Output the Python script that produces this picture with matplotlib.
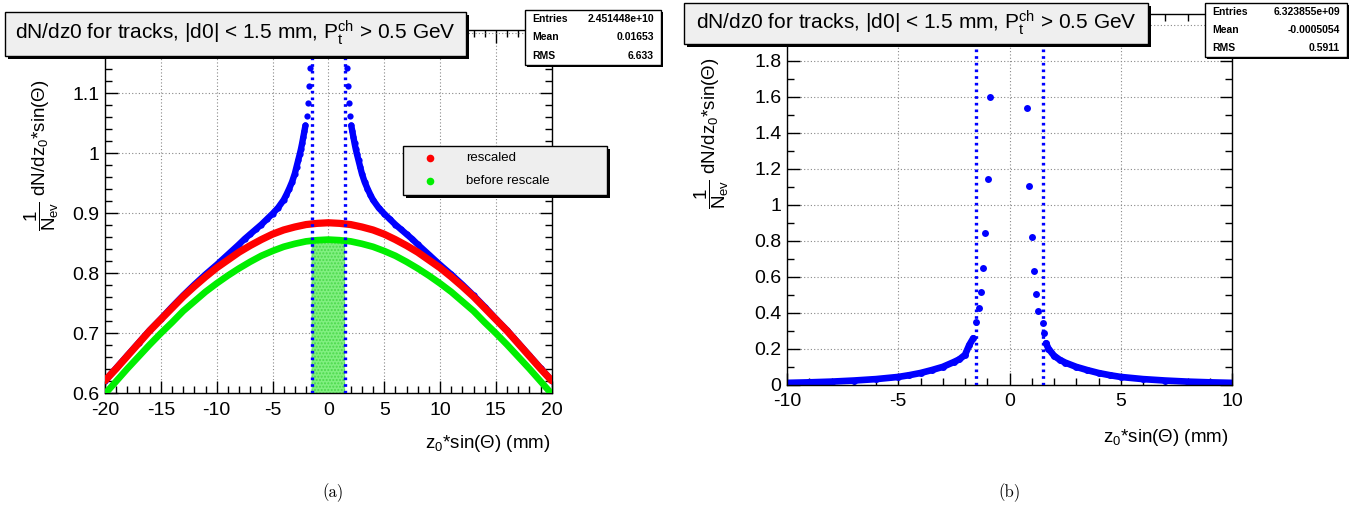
import numpy as np
import matplotlib
matplotlib.use("Agg")
import matplotlib.pyplot as plt
from matplotlib.patches import Rectangle
from matplotlib.lines import Line2D
from matplotlib.ticker import MultipleLocator, FuncFormatter

plt.rcParams['font.family'] = ['Liberation Sans', 'DejaVu Sans']
plt.rcParams['mathtext.fontset'] = 'custom'
plt.rcParams['mathtext.rm'] = 'Liberation Sans'
plt.rcParams['mathtext.it'] = 'Liberation Sans'
plt.rcParams['mathtext.bf'] = 'Liberation Sans:bold'
plt.rcParams['axes.unicode_minus'] = False

# ---------------- data: panel (a), |z0 sin(theta)| up to 20 mm ----------------
z_a = [-20, -19, -18, -17, -16, -15, -14, -13, -12, -11, -10, -9, -8, -7, -6, -5,
       -4, -3, -2, -1, 0, 1, 2, 3, 4, 5, 6, 7, 8, 9, 10, 11, 12, 13, 14, 15, 16,
       17, 18, 19, 20]
rescaled = [0.621, 0.641, 0.662, 0.683, 0.704, 0.723, 0.742, 0.761, 0.778, 0.794,
            0.809, 0.822, 0.835, 0.846, 0.856, 0.865, 0.872, 0.877, 0.881, 0.883,
            0.884, 0.883, 0.881, 0.877, 0.872, 0.865, 0.856, 0.846, 0.835, 0.822,
            0.809, 0.794, 0.778, 0.761, 0.742, 0.723, 0.704, 0.683, 0.662, 0.641,
            0.621]
before_rescale = [0.599, 0.620, 0.641, 0.661, 0.681, 0.700, 0.718, 0.737, 0.753,
                  0.769, 0.783, 0.796, 0.808, 0.819, 0.829, 0.837, 0.844, 0.849,
                  0.853, 0.855, 0.856, 0.855, 0.853, 0.849, 0.844, 0.837, 0.829,
                  0.819, 0.808, 0.796, 0.783, 0.769, 0.753, 0.737, 0.718, 0.700,
                  0.681, 0.661, 0.641, 0.620, 0.599]

# measured distribution, left and right of the cut window
z_meas_neg = [-20, -19, -18, -17, -16, -15, -14, -13, -12, -11, -10, -9, -8, -7.5,
              -7, -6.5, -6, -5.5, -5, -4.5, -4, -3.75, -3.5, -3.25, -3, -2.85, -2.7,
              -2.55, -2.45, -2.35, -2.25, -2.15, -2.05, -1.95, -1.85, -1.75, -1.65,
              -1.6, -1.55]
meas_neg = [0.621, 0.642, 0.663, 0.684, 0.705, 0.724, 0.744, 0.763, 0.781, 0.798,
            0.814, 0.831, 0.848, 0.857, 0.865, 0.873, 0.881, 0.890, 0.899, 0.909,
            0.922, 0.931, 0.941, 0.952, 0.966, 0.977, 0.988, 0.999, 1.007, 1.016,
            1.026, 1.036, 1.046, 1.062, 1.083, 1.112, 1.142, 1.168, 1.192]
z_meas_pos = [1.55, 1.6, 1.65, 1.75, 1.85, 1.95, 2.05, 2.15, 2.25, 2.35, 2.45, 2.55,
              2.7, 2.85, 3.0, 3.25, 3.5, 3.75, 4.0, 4.5, 5, 5.5, 6, 6.5, 7, 7.5, 8,
              9, 10, 11, 12, 13, 14, 15, 16, 17, 18, 19, 20]
meas_pos = [1.192, 1.168, 1.142, 1.112, 1.083, 1.062, 1.046, 1.036, 1.026, 1.016,
            1.007, 0.999, 0.988, 0.977, 0.966, 0.952, 0.941, 0.931, 0.922, 0.909,
            0.899, 0.890, 0.881, 0.873, 0.865, 0.857, 0.848, 0.831, 0.814, 0.798,
            0.781, 0.763, 0.744, 0.724, 0.705, 0.684, 0.663, 0.642, 0.621]

# ---------------- data: panel (b), |z0 sin(theta)| up to 10 mm ----------------
z_b_neg = [-10, -9, -8, -7, -6, -5, -4.5, -4, -3.5, -3, -2.5, -2.25, -2, -1.81,
           -1.63, -1.51, -1.36, -1.28, -1.20, -1.10, -0.98, -0.88]
dens_b_neg = [0.009, 0.012, 0.016, 0.022, 0.030, 0.042, 0.052, 0.064, 0.080, 0.098,
              0.125, 0.140, 0.165, 0.219, 0.257, 0.346, 0.423, 0.512, 0.649, 0.843,
              1.142, 1.599]
z_b_pos = [0.80, 0.89, 1.00, 1.12, 1.21, 1.30, 1.49, 1.55, 1.64, 1.75, 2.0, 2.25,
           2.5, 3, 3.5, 4, 4.5, 5, 6, 7, 8, 9, 10]
dens_b_pos = [1.540, 1.103, 0.821, 0.632, 0.501, 0.410, 0.340, 0.288, 0.229, 0.200,
              0.160, 0.138, 0.122, 0.098, 0.080, 0.064, 0.052, 0.042, 0.030, 0.022,
              0.016, 0.012, 0.009]

d0_cut = 1.5

title_txt = r'dN/dz0 for tracks, |d0| < 1.5 mm, P$_{t}^{ch}$ > 0.5 GeV'
stats_a = [("Entries", "2.451448e+10"), ("Mean", "0.01653"), ("RMS", "6.633")]
stats_b = [("Entries", "6.323855e+09"), ("Mean", "-0.0005054"), ("RMS", "0.5911")]
legend_labels = ["rescaled", "before rescale"]
xlabel_txt = r'z$_0$*sin($\Theta$) (mm)'
ylabel_txt = r'$\dfrac{1}{N_{ev}}$ dN/dz$_0$*sin($\Theta$)'

BLUE = '#0000ff'
RED = '#ff0000'
GREEN = '#00ee00'

W, H = 1359, 511
fig = plt.figure(figsize=(W / 100, H / 100), dpi=100)
fig.patch.set_facecolor('white')


def fx(px):
    return px / W


def fy(py):
    return 1 - py / H


def make_axes(left, right, top, bottom):
    return fig.add_axes([fx(left), fy(bottom), fx(right) - fx(left), fy(top) - fy(bottom)])


def label_fmt(vmax):
    # plain numbers, no trailing ".0"; labels hidden under the title box are dropped
    def f(v, pos):
        if v > vmax + 1e-9:
            return ''
        s = '%g' % round(v, 6)
        return '0' if s in ('-0', '0') else s
    return FuncFormatter(f)


def style_axes(ax, xmaj, xmin, ymaj, ymin, ylab_max):
    ax.xaxis.set_major_locator(MultipleLocator(xmaj))
    ax.xaxis.set_minor_locator(MultipleLocator(xmin))
    ax.yaxis.set_major_locator(MultipleLocator(ymaj))
    ax.yaxis.set_minor_locator(MultipleLocator(ymin))
    ax.xaxis.set_major_formatter(label_fmt(1e9))
    ax.yaxis.set_major_formatter(label_fmt(ylab_max))
    ax.tick_params(which='both', direction='in', top=True, right=True,
                   labelsize=14, width=1)
    ax.tick_params(axis='x', pad=6)
    ax.tick_params(axis='y', pad=4)
    ax.tick_params(which='major', length=9)
    ax.tick_params(which='minor', length=5)
    ax.grid(True, which='major', linestyle=(0, (1, 2)), color='#888888', linewidth=0.8)
    ax.set_axisbelow(True)
    for s in ax.spines.values():
        s.set_linewidth(1.0)


def box(x0, y0, x1, y1, face, shadow=3, z=10):
    fig.add_artist(Rectangle((fx(x0 + shadow), fy(y1 + shadow)), fx(x1 - x0), fy(y0) - fy(y1),
                             transform=fig.transFigure, facecolor='black',
                             edgecolor='none', zorder=z))
    fig.add_artist(Rectangle((fx(x0), fy(y1)), fx(x1 - x0), fy(y0) - fy(y1),
                             transform=fig.transFigure, facecolor=face,
                             edgecolor='black', linewidth=1, zorder=z + 0.1))


def title_box(x0, y0, x1, y1):
    box(x0, y0, x1, y1, '#efefef')
    fig.text(fx((x0 + x1) / 2), fy((y0 + y1) / 2 - 1), title_txt, ha='center',
             va='center', fontsize=15, zorder=12)


def stats_box(x0, y0, x1, y1, rows):
    box(x0, y0, x1, y1, 'white', shadow=2)
    step = (y1 - y0) / len(rows)
    for i, (k, v) in enumerate(rows):
        yy = y0 + step * (i + 0.5)
        fig.text(fx(x0 + 7), fy(yy), k, ha='left', va='center', fontsize=7.5,
                 fontweight='bold', zorder=12)
        fig.text(fx(x1 - 7), fy(yy), v, ha='right', va='center', fontsize=7.5,
                 fontweight='bold', zorder=12)


# ======================= panel (a) =======================
ax1 = make_axes(105, 551.7, 30, 393.3)
ax1.set_xlim(-20, 20)
ax1.set_ylim(0.6, 1.205)
style_axes(ax1, 5, 1, 0.1, 0.02, 1.15)

# shaded window |z0 sin(theta)| < d0 cut under the unscaled curve
zz = np.array(z_a, dtype=float)
band_x = [-d0_cut] + [z for z in z_a if abs(z) < d0_cut] + [d0_cut]
band_y = np.interp(band_x, zz, before_rescale)
ax1.fill_between(band_x, 0.6, band_y, color='#80f080', hatch='.....',
                 edgecolor='#4cd84c', linewidth=0, zorder=1.5)

# measured distribution
zn = np.array(z_meas_neg)
zp = np.array(z_meas_pos)
mn = np.array(meas_neg)
mp = np.array(meas_pos)
for zs, ms in ((zn, mn), (zp, mp)):
    smooth = np.abs(zs) >= 2.0
    ax1.plot(zs[smooth], ms[smooth], color=BLUE, lw=4.6, solid_capstyle='round', zorder=2)
    ax1.plot(zs, ms, 'o', color=BLUE, ms=4.5, mew=0, zorder=2)

ax1.plot(z_a, before_rescale, color=GREEN, lw=4.8, solid_capstyle='round', zorder=3)
ax1.plot(z_a, rescaled, color=RED, lw=5.2, solid_capstyle='round', zorder=3)

for c in (-d0_cut, d0_cut):
    ax1.axvline(c, color=BLUE, lw=2.4, linestyle=(0, (0.8, 1.2)), zorder=4)

# ======================= panel (b) =======================
ax2 = make_axes(787, 1232, 14, 384.5)
ax2.set_xlim(-10, 10)
ax2.set_ylim(0, 2.06)
style_axes(ax2, 5, 1, 0.2, 0.1, 1.9)

for zs, ds in ((np.array(z_b_neg), np.array(dens_b_neg)),
               (np.array(z_b_pos), np.array(dens_b_pos))):
    tail = np.abs(zs) >= 1.6
    ax2.plot(zs[tail], ds[tail], color=BLUE, lw=4.8, solid_capstyle='round', zorder=2)
    ax2.plot(zs, ds, 'o', color=BLUE, ms=5, mew=0, zorder=2)

for c in (-d0_cut, d0_cut):
    ax2.axvline(c, color=BLUE, lw=2.4, linestyle=(0, (0.8, 1.2)), zorder=4)

# axis titles
for ax, xl_right, xl_y, yl_x, yl_y in ((ax1, 550, 443, 42, 155), (ax2, 1228, 437, 712, 133)):
    fig.text(fx(xl_right), fy(xl_y), xlabel_txt, ha='right', va='center', fontsize=13.5)
    fig.text(fx(yl_x), fy(yl_y), ylabel_txt, ha='center', va='center', fontsize=13.5,
             rotation=90)

# title boxes and statistics boxes
title_box(5, 12, 466, 56)
title_box(684, 3, 1148, 44)
stats_box(525, 10, 661, 65, stats_a)
stats_box(1205, 3, 1347, 57, stats_b)

# legend of panel (a)
box(403, 146, 607, 195, '#eeeeee')
for i, (lab, col) in enumerate(zip(legend_labels, (RED, GREEN))):
    yy = 158 + 23 * i
    fig.add_artist(Line2D([fx(430)], [fy(yy)], marker='o', color=col, ms=5.5, mew=0,
                          transform=fig.transFigure, zorder=12))
    fig.text(fx(466), fy(yy), lab, ha='left', va='center', fontsize=9.5, zorder=12)

# sub-figure captions
fig.text(fx(333), fy(493), '(a)', ha='center', va='center', fontsize=12, family='cmr10')
fig.text(fx(1010), fy(493), '(b)', ha='center', va='center', fontsize=12, family='cmr10')

fig.savefig('out.png', dpi=100, facecolor='white')
